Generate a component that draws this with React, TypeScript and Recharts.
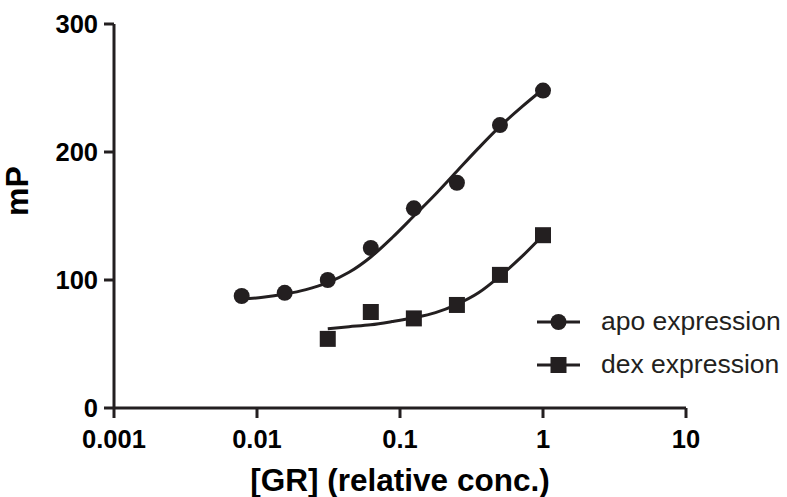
import React from "react";
import { ComposedChart, XAxis, YAxis, Line, Scatter } from "recharts";

// concentrations (2-fold dilution series)
const apoConc = [0.0078125, 0.015625, 0.03125, 0.0625, 0.125, 0.25, 0.5, 1];
const apoMp = [87.5, 90, 100, 125, 156, 176, 221, 248];

const dexConc = [0.03125, 0.0625, 0.125, 0.25, 0.5, 1];
const dexMp = [54, 75, 70, 80.5, 104, 135];

// fitted curves
const apoFitConc = [0.0078125, 0.011, 0.015625, 0.022, 0.03125, 0.044, 0.0625, 0.088, 0.125, 0.177, 0.25, 0.354, 0.5, 0.707, 1];
const apoFitMp = [85, 86.5, 89, 92.5, 98, 106, 118, 133, 150, 167, 185, 203, 220, 235, 249];

const dexFitConc = [0.03125, 0.044, 0.0625, 0.088, 0.125, 0.177, 0.25, 0.354, 0.5, 0.707, 1];
const dexFitMp = [62, 63.5, 65, 67.5, 70.5, 74.5, 81, 90, 103, 118, 135];

const xTicks = [0.001, 0.01, 0.1, 1, 10];
const yTicks = [0, 100, 200, 300];

const ink = "#231f20";
const font = "Liberation Sans, Arial, sans-serif";

const toPts = (xs: number[], ys: number[]) => xs.map((x, i) => ({ x, y: ys[i] }));

const apoPts = toPts(apoConc, apoMp);
const dexPts = toPts(dexConc, dexMp);
const apoFit = toPts(apoFitConc, apoFitMp);
const dexFit = toPts(dexFitConc, dexFitMp);

const Dot = (p: any) => <circle cx={p.cx} cy={p.cy} r={8} fill={ink} />;
const Sq = (p: any) => <rect x={p.cx - 8} y={p.cy - 8} width={16} height={16} fill={ink} />;

const LegendBox = () => (
  <div style={{ position: "absolute", left: 535, top: 300, fontFamily: font, fontSize: 26.5, color: ink }}>
    {[
      { name: "apo expression", sq: false },
      { name: "dex expression", sq: true },
    ].map((it) => (
      <div key={it.name} style={{ display: "flex", alignItems: "center", height: 43 }}>
        <svg width={60} height={20} style={{ marginRight: 6 }}>
          <line x1={2} y1={10} x2={45} y2={10} stroke={ink} strokeWidth={3} />
          {it.sq ? <rect x={15.5} y={2} width={16} height={16} fill={ink} /> : <circle cx={23.5} cy={10} r={8} fill={ink} />}
        </svg>
        <span>{it.name}</span>
      </div>
    ))}
  </div>
);

export default function App() {
  return (
    <div style={{ position: "absolute", left: 0, top: 0, width: 787, height: 497, background: "#fff" }}>
      <ComposedChart width={787} height={497} margin={{ top: 24, right: 101, left: 54, bottom: 29 }}>
        <XAxis
          dataKey="x"
          type="number"
          scale="log"
          domain={[0.001, 10]}
          ticks={xTicks}
          allowDataOverflow
          height={60}
          stroke={ink}
          strokeWidth={3}
          tickSize={10}
          tickMargin={12}
          tickFormatter={(v: number) => String(v)}
          tick={{ fill: "#000", fontSize: 25.5, fontWeight: "bold", fontFamily: font }}
          label={{ value: "[GR] (relative conc.)", position: "insideBottom", offset: -23, fill: "#000", fontSize: 31.5, fontWeight: "bold", fontFamily: font }}
        />
        <YAxis
          dataKey="y"
          type="number"
          domain={[0, 300]}
          ticks={yTicks}
          width={60}
          stroke={ink}
          strokeWidth={3}
          tickSize={10}
          tickMargin={6}
          tick={{ fill: "#000", fontSize: 25.5, fontWeight: "bold", fontFamily: font }}
          label={{ value: "mP", angle: -90, position: "insideLeft", offset: -37, fill: "#000", fontSize: 32, fontWeight: "bold", fontFamily: font }}
        />
        <Line data={apoFit} dataKey="y" type="monotone" stroke={ink} strokeWidth={3} dot={false} isAnimationActive={false} />
        <Line data={dexFit} dataKey="y" type="monotone" stroke={ink} strokeWidth={3} dot={false} isAnimationActive={false} />
        <Scatter data={apoPts} dataKey="y" shape={Dot} isAnimationActive={false} />
        <Scatter data={dexPts} dataKey="y" shape={Sq} isAnimationActive={false} />
      </ComposedChart>
      <LegendBox />
    </div>
  );
}
